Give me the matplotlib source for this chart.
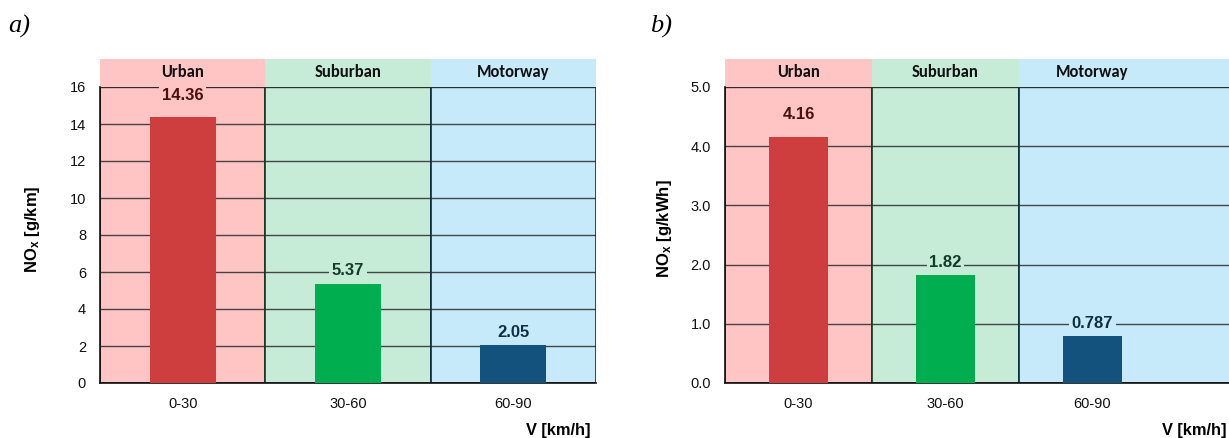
import matplotlib
matplotlib.use("Agg")
import matplotlib.pyplot as plt
from matplotlib.patches import Rectangle
from matplotlib.ticker import FormatStrFormatter

# --- data ---------------------------------------------------------------
speed_bins = ["0-30", "30-60", "60-90"]
zones = ["Urban", "Suburban", "Motorway"]
nox_per_km = [14.36, 5.37, 2.05]
nox_per_kwh = [4.16, 1.82, 0.787]
label_text_a = ["14.36", "5.37", "2.05"]
label_text_b = ["4.16", "1.82", "0.787"]

# --- style --------------------------------------------------------------
plt.rcParams["font.family"] = ["Liberation Sans", "DejaVu Sans"]
plt.rcParams["mathtext.fontset"] = "custom"
plt.rcParams["mathtext.rm"] = "Liberation Sans"
plt.rcParams["mathtext.bf"] = "Liberation Sans:bold"

band_colors = ["#FFC4C4", "#C6ECD8", "#C6EAF9"]
band_edges = ["#4A0A0A", "#123B22", "#0E2A3C"]
bar_colors = ["#CF3E3E", "#00AE4F", "#14527E"]
text_colors = ["#4A1010", "#0F3D28", "#0F2E45"]
label_offsets = [22, 13, 13]  # pixels above bar top

W, H = 1229, 438
fig = plt.figure(figsize=(W / 100, H / 100), dpi=100)


def px_axes(x0, x1, ytop, ybot):
    return fig.add_axes([x0 / W, 1 - ybot / H, (x1 - x0) / W, (ybot - ytop) / H])


def draw_panel(ax, values, texts, ymax, yticks, fmt, ylabel, xmax, label_x):
    n = len(values)
    x = list(range(n))
    ax.set_xlim(-0.5, xmax)
    ax.set_ylim(0, ymax)
    # zone bands inside the plot and header strips above it
    for i in range(n):
        left = i - 0.5
        right = i + 0.5 if i < n - 1 else xmax
        ax.add_patch(Rectangle((left, 0), right - left, ymax, facecolor=band_colors[i],
                               edgecolor=band_edges[i], linewidth=1.2, zorder=0))
        ax.add_patch(Rectangle((left, ymax), right - left, ymax * 0.0946,
                               facecolor=band_colors[i], edgecolor="none",
                               clip_on=False, zorder=0))
        ax.text(i, ymax * 1.049, zones[i], ha="center", va="center",
                fontsize=12, fontweight="bold", family=["Carlito", "DejaVu Sans"],
                color="#111111", clip_on=False)
    ax.set_yticks(yticks)
    ax.yaxis.set_major_formatter(FormatStrFormatter(fmt))
    ax.grid(axis="y", color="#2A2A2A", linewidth=1.0, alpha=0.85, zorder=1)
    ax.set_axisbelow(True)
    ax.bar(x, values, width=0.4, color=bar_colors, zorder=3)
    for i, (v, t) in enumerate(zip(values, texts)):
        ax.annotate(t, (x[i], v), xytext=(0, label_offsets[i] * 0.72),
                    textcoords="offset points", ha="center", va="center",
                    fontsize=12, fontweight="bold", color=text_colors[i], zorder=5,
                    bbox=dict(boxstyle="square,pad=0.15", facecolor=band_colors[i],
                              edgecolor="none"))
    ax.set_xticks(x)
    ax.set_xticklabels(speed_bins)
    ax.tick_params(length=0, labelsize=10.5, colors="#111111")
    ax.tick_params(axis="y", pad=10)
    ax.tick_params(axis="x", pad=10)
    for s in ax.spines.values():
        s.set_visible(False)
    ax.spines["left"].set_visible(True)
    ax.spines["left"].set_color("#111111")
    ax.spines["left"].set_linewidth(1.2)
    ax.spines["bottom"].set_visible(True)
    ax.spines["bottom"].set_color("#111111")
    ax.spines["bottom"].set_linewidth(1.2)
    fig.text(label_x / W, 1 - 229 / H, ylabel, rotation=90, ha="center", va="center",
             fontsize=12, fontweight="bold")


ax_a = px_axes(100, 596, 87, 383)
draw_panel(ax_a, nox_per_km, label_text_a, 16, range(0, 17, 2), "%d",
           r"$\mathbf{NO_x}$ [g/km]", 2.5, 32)
fig.text(590 / W, 1 - 430 / H, "V [km/h]", ha="right", va="center",
         fontsize=11.8, fontweight="bold")

ax_b = px_axes(725, 1232, 87, 383)
draw_panel(ax_b, nox_per_kwh, label_text_b, 5.0, [0, 1, 2, 3, 4, 5], "%.1f",
           r"$\mathbf{NO_x}$ [g/kWh]", 2.95, 665)
fig.text(1226 / W, 1 - 430 / H, "V [km/h]", ha="right", va="center",
         fontsize=11.8, fontweight="bold")

fig.text(8 / W, 1 - 26 / H, "a)", ha="left", va="center", fontsize=19,
         style="italic", family=["Liberation Serif", "DejaVu Serif"])
fig.text(650 / W, 1 - 26 / H, "b)", ha="left", va="center", fontsize=19,
         style="italic", family=["Liberation Serif", "DejaVu Serif"])

fig.savefig("out.png", dpi=100, facecolor="white")
